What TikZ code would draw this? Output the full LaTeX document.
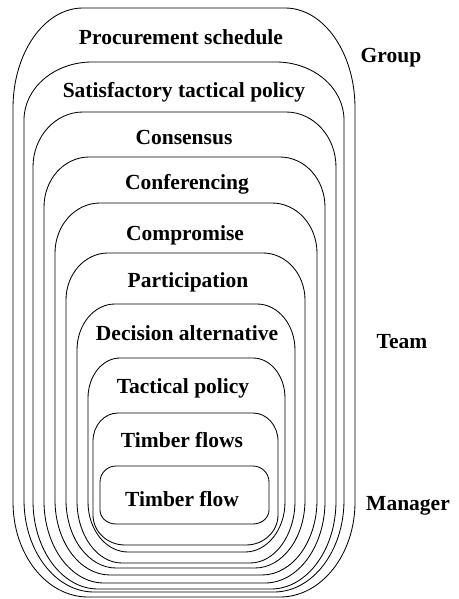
\documentclass[tikz,border=0pt]{standalone}
\usepackage{fontspec}
\setmainfont{Liberation Serif}
\newcommand\nestbox[8]{%
  \draw[boxline] ({#1},{-(#3+#6)}) -- ({#1},{-(#4-#8)})
    arc[start angle=180,end angle=270,x radius=#7,y radius=#8]
    -- ({#2-#7},{-#4})
    arc[start angle=270,end angle=360,x radius=#7,y radius=#8]
    -- ({#2},{-(#3+#6)})
    arc[start angle=0,end angle=90,x radius=#5,y radius=#6]
    -- ({#1+#5},{-#3})
    arc[start angle=90,end angle=180,x radius=#5,y radius=#6]
    -- cycle;}
\begin{document}
\begin{tikzpicture}[x=1pt,y=1pt,
  boxline/.style={line width=0.85pt,black},
  lbl/.style={font=\fontsize{21.5}{25}\selectfont\bfseries,anchor=base,inner sep=0pt}]
\useasboundingbox (0,0) rectangle (458,-599);
\nestbox{13}{355}{8}{597}{70}{100}{75}{95}
\nestbox{24}{344}{62}{592}{68}{58}{70}{92}
\nestbox{33}{336}{112}{589}{50}{55}{65}{88}
\nestbox{44}{325}{157}{583}{45}{50}{60}{82}
\nestbox{55}{317}{203}{575}{45}{50}{55}{75}
\nestbox{66}{305}{253}{568}{42}{47}{50}{68}
\nestbox{77}{295}{304}{563}{38}{46}{45}{62}
\nestbox{88}{285}{358}{552}{32}{40}{40}{50}
\nestbox{93}{278}{413}{545}{25}{28}{32}{30}
\nestbox{100}{269}{466}{524}{16}{16}{16}{14}
\node[lbl] (t1) at (181,-45) {Procurement schedule};
\node[lbl] (t2) at (184,-98) {Satisfactory tactical policy};
\node[lbl] (t3) at (184,-144) {Consensus};
\node[lbl] (t4) at (187,-189) {Conferencing};
\node[lbl] (t5) at (185,-240) {Compromise};
\node[lbl] (t6) at (188,-287) {Participation};
\node[lbl] (t7) at (187,-340) {Decision alternative};
\node[lbl] (t8) at (183,-393) {Tactical policy};
\node[lbl] (t9) at (182,-447) {Timber flows};
\node[lbl] (t10) at (182,-506) {Timber flow};
\node[lbl] (g) at (391,-63) {Group};
\node[lbl] (tm) at (402,-348) {Team};
\node[lbl] (m) at (408,-510) {Manager};
\end{tikzpicture}
\end{document}
